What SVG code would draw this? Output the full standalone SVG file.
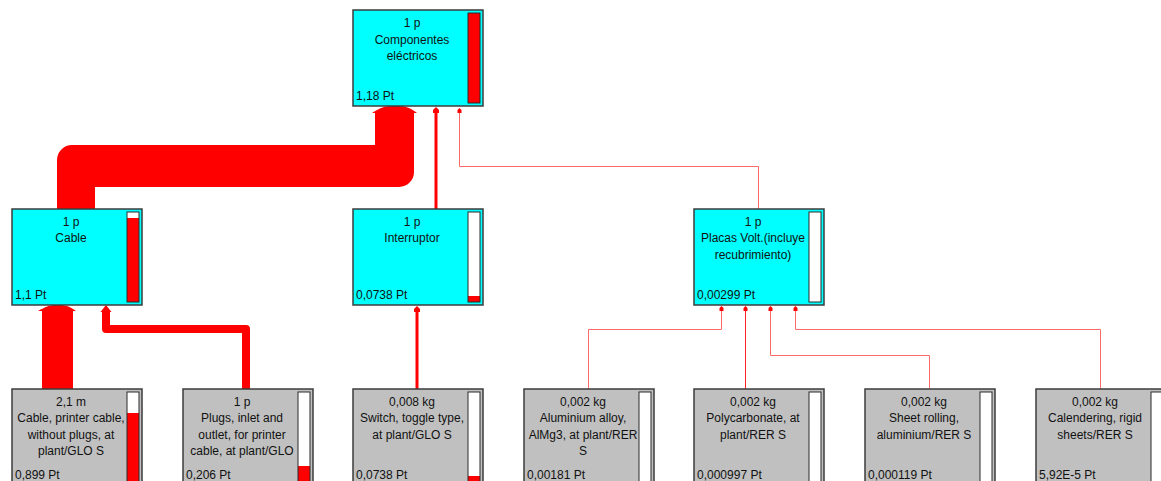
<svg xmlns="http://www.w3.org/2000/svg" width="1161" height="481" viewBox="0 0 1161 481">
<style>
.box{stroke:#3c3c3c;stroke-width:1.5}
.cy{fill:#00ffff}
.gr{fill:#c0c0c0}
.barbg{fill:#ffffff}
.barfill{fill:#ff0000}
.barline{fill:none;stroke:#2a2a2a;stroke-width:1}
text{font-family:"Liberation Sans",Arial,sans-serif;font-size:12px;fill:#111}
.c{text-anchor:middle}
.flow{fill:#ff0000}
.thin{fill:none;stroke:#ff6a6a;stroke-width:1}
.thin2{fill:none;stroke:#ff2020;stroke-width:1}
.mid{fill:none;stroke:#ff0000;stroke-width:3}
.wide{fill:none;stroke:#ff0000;stroke-width:8;stroke-linejoin:round}
</style>
<defs>
<path id="ah" d="M-2,5 L-2,2 L0,0 L2,2 L2,5 Z" fill="#ff0000"/>
<path id="ahm" d="M-3,6 L-3,3 L0,0 L3,3 L3,6 Z" fill="#ff0000"/>
</defs>

<g id="connectors">
  <!-- Cable -> Componentes -->
  <path class="flow" d="M57,209 L57,160 A15,15 0 0 1 72,145 L375,145 L375,112 L414,112 L414,172 A15,15 0 0 1 399,187 L95,187 L95,209 Z"/>
  <path class="flow" d="M372,113 C378,109 384,106 390,106 L400,106 C406,106 412,109 417,113 Z"/>
  <!-- Interruptor -> Componentes -->
  <line class="mid" x1="436" y1="209" x2="436" y2="112"/>
  <use href="#ahm" x="436" y="107"/>
  <!-- Placas -> Componentes -->
  <polyline class="thin" points="758.5,209 758.5,166.5 459.5,166.5 459.5,112"/>
  <use href="#ah" x="459.5" y="108"/>
  <!-- Cable printer -> Cable -->
  <rect class="flow" x="42" y="310" width="31" height="80"/>
  <path class="flow" d="M38,311 C45,307 50,305 55,305 L61,305 C66,305 71,307 76,311 Z"/>
  <!-- Plugs -> Cable -->
  <polyline class="wide" points="246,390 246,329 106,329 106,311"/>
  <path class="flow" d="M100.5,312 L106,305 L111.5,312 Z"/>
  <!-- Switch -> Interruptor -->
  <line class="mid" x1="417" y1="389" x2="417" y2="311"/>
  <use href="#ahm" x="417" y="306"/>
  <!-- Placas inputs -->
  <polyline class="thin" points="588.5,389 588.5,329.5 721.5,329.5 721.5,310"/>
  <use href="#ah" x="721.5" y="306"/>
  <polyline class="thin2" points="745.5,389 745.5,310"/>
  <use href="#ah" x="745.5" y="306"/>
  <polyline class="thin" points="929.5,389 929.5,355.5 770.5,355.5 770.5,310"/>
  <use href="#ah" x="770.5" y="306"/>
  <polyline class="thin" points="1100.5,389 1100.5,329.5 795.5,329.5 795.5,310"/>
  <use href="#ah" x="795.5" y="306"/>
</g>

<g id="node-componentes" transform="translate(353,10)">
  <rect class="box cy" x="0" y="0" width="130" height="96"/>
  <rect class="barbg" x="115" y="3" width="12" height="90"/>
  <rect class="barfill" x="115" y="3" width="12" height="90"/>
  <rect class="barline" x="115" y="3" width="12" height="90"/>
  <text class="c" x="59" y="17">1 p</text>
  <text class="c" x="59" y="34">Componentes</text>
  <text class="c" x="59" y="50">eléctricos</text>
  <text x="3" y="90">1,18 Pt</text>
</g>

<g id="node-cable" transform="translate(12,209)">
  <rect class="box cy" x="0" y="0" width="130" height="96"/>
  <rect class="barbg" x="115" y="3" width="12" height="90"/>
  <rect class="barfill" x="115" y="9" width="12" height="84"/>
  <rect class="barline" x="115" y="3" width="12" height="90"/>
  <text class="c" x="59" y="17">1 p</text>
  <text class="c" x="59" y="33">Cable</text>
  <text x="3" y="90">1,1 Pt</text>
</g>

<g id="node-interruptor" transform="translate(353,209)">
  <rect class="box cy" x="0" y="0" width="130" height="96"/>
  <rect class="barbg" x="115" y="3" width="12" height="90"/>
  <rect class="barfill" x="115" y="87" width="12" height="6"/>
  <rect class="barline" x="115" y="3" width="12" height="90"/>
  <text class="c" x="59" y="17">1 p</text>
  <text class="c" x="59" y="33">Interruptor</text>
  <text x="3" y="90">0,0738 Pt</text>
</g>

<g id="node-placas" transform="translate(694,209)">
  <rect class="box cy" x="0" y="0" width="130" height="96"/>
  <rect class="barbg" x="115" y="3" width="12" height="90"/>
  <rect class="barline" x="115" y="3" width="12" height="90"/>
  <text class="c" x="59" y="17">1 p</text>
  <text class="c" x="59" y="33">Placas Volt.(incluye</text>
  <text class="c" x="59" y="50">recubrimiento)</text>
  <text x="3" y="90">0,00299 Pt</text>
</g>

<g id="node-cable-printer" transform="translate(12,389)">
  <rect class="box gr" x="0" y="0" width="130" height="96"/>
  <rect class="barbg" x="115" y="3" width="12" height="90"/>
  <rect class="barfill" x="115" y="24" width="12" height="69"/>
  <rect class="barline" x="115" y="3" width="12" height="90"/>
  <text class="c" x="59" y="17">2,1 m</text>
  <text class="c" x="59" y="33">Cable, printer cable,</text>
  <text class="c" x="59" y="50">without plugs, at</text>
  <text class="c" x="59" y="66">plant/GLO S</text>
  <text x="3" y="90">0,899 Pt</text>
</g>

<g id="node-plugs" transform="translate(183,389)">
  <rect class="box gr" x="0" y="0" width="130" height="96"/>
  <rect class="barbg" x="115" y="3" width="12" height="90"/>
  <rect class="barfill" x="115" y="77" width="12" height="16"/>
  <rect class="barline" x="115" y="3" width="12" height="90"/>
  <text class="c" x="59" y="17">1 p</text>
  <text class="c" x="59" y="33">Plugs, inlet and</text>
  <text class="c" x="59" y="50">outlet, for printer</text>
  <text class="c" x="59" y="66">cable, at plant/GLO</text>
  <text x="3" y="90">0,206 Pt</text>
</g>

<g id="node-switch" transform="translate(353,389)">
  <rect class="box gr" x="0" y="0" width="130" height="96"/>
  <rect class="barbg" x="115" y="3" width="12" height="90"/>
  <rect class="barfill" x="115" y="87" width="12" height="6"/>
  <rect class="barline" x="115" y="3" width="12" height="90"/>
  <text class="c" x="59" y="17">0,008 kg</text>
  <text class="c" x="59" y="33">Switch, toggle type,</text>
  <text class="c" x="59" y="50">at plant/GLO S</text>
  <text x="3" y="90">0,0738 Pt</text>
</g>

<g id="node-aluminium" transform="translate(524,389)">
  <rect class="box gr" x="0" y="0" width="130" height="96"/>
  <rect class="barbg" x="115" y="3" width="12" height="90"/>
  <rect class="barline" x="115" y="3" width="12" height="90"/>
  <text class="c" x="59" y="17">0,002 kg</text>
  <text class="c" x="59" y="33">Aluminium alloy,</text>
  <text class="c" x="59" y="50">AlMg3, at plant/RER</text>
  <text class="c" x="59" y="66">S</text>
  <text x="3" y="90">0,00181 Pt</text>
</g>

<g id="node-polycarbonate" transform="translate(694,389)">
  <rect class="box gr" x="0" y="0" width="130" height="96"/>
  <rect class="barbg" x="115" y="3" width="12" height="90"/>
  <rect class="barline" x="115" y="3" width="12" height="90"/>
  <text class="c" x="59" y="17">0,002 kg</text>
  <text class="c" x="59" y="33">Polycarbonate, at</text>
  <text class="c" x="59" y="50">plant/RER S</text>
  <text x="3" y="90">0,000997 Pt</text>
</g>

<g id="node-sheet-rolling" transform="translate(865,389)">
  <rect class="box gr" x="0" y="0" width="130" height="96"/>
  <rect class="barbg" x="115" y="3" width="12" height="90"/>
  <rect class="barline" x="115" y="3" width="12" height="90"/>
  <text class="c" x="59" y="17">0,002 kg</text>
  <text class="c" x="59" y="33">Sheet rolling,</text>
  <text class="c" x="59" y="50">aluminium/RER S</text>
  <text x="3" y="90">0,000119 Pt</text>
</g>

<g id="node-calendering" transform="translate(1036,389)">
  <rect class="box gr" x="0" y="0" width="130" height="96"/>
  <rect class="barbg" x="115" y="3" width="12" height="90"/>
  <rect class="barline" x="115" y="3" width="12" height="90"/>
  <text class="c" x="59" y="17">0,002 kg</text>
  <text class="c" x="59" y="33">Calendering, rigid</text>
  <text class="c" x="59" y="50">sheets/RER S</text>
  <text x="3" y="90">5,92E-5 Pt</text>
</g>
</svg>
